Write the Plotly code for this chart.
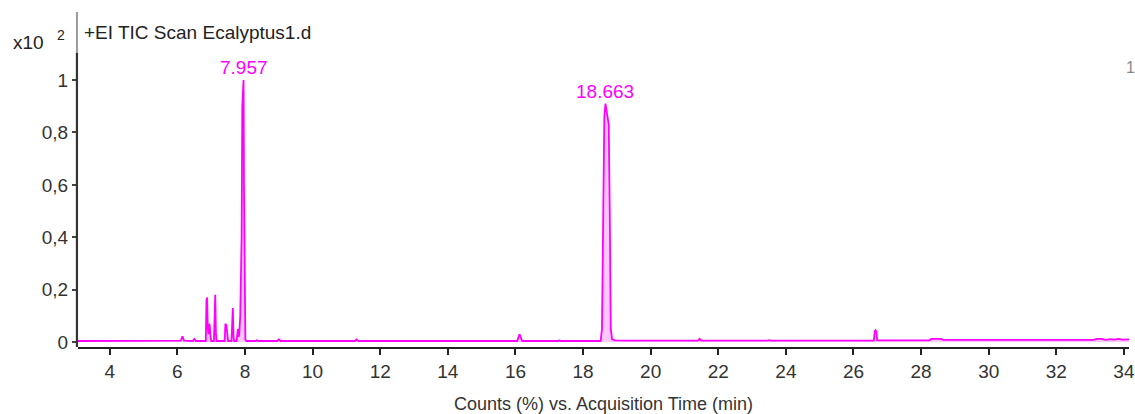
import plotly.graph_objects as go

# Acquisition time (min) and counts (x10^2 %)
time_min = [
    3.06, 5.9, 6.1, 6.15, 6.2, 6.45, 6.5, 6.55, 6.84, 6.86, 6.88, 6.9, 6.92, 6.94, 6.96, 6.98, 7.0,
    7.08, 7.1, 7.12, 7.14, 7.16, 7.4, 7.42, 7.45, 7.48, 7.5, 7.6, 7.62, 7.64, 7.66, 7.68,
    7.75, 7.77, 7.79, 7.81, 7.83, 7.86, 7.88, 7.9, 7.92, 7.94, 7.957, 7.97, 7.99, 8.01, 8.04,
    8.3, 8.35, 8.4, 8.95, 9.0, 9.05, 10.05, 10.1, 10.15, 11.25, 11.3, 11.35,
    16.05, 16.1, 16.12, 16.15, 16.2, 17.25, 17.3, 17.35,
    18.52, 18.56, 18.58, 18.6, 18.63, 18.663, 18.7, 18.73, 18.76, 18.79, 18.82, 18.86, 18.95, 19.3,
    19.55, 19.6, 19.65, 20.05, 20.1, 20.15, 21.4, 21.45, 21.5, 23.45, 23.5, 23.55,
    26.6, 26.63, 26.65, 26.68, 26.7, 28.25, 28.3, 28.45, 28.6, 28.65,
    33.1, 33.2, 33.35, 33.45, 33.6, 33.7, 33.85, 33.95, 34.15,
]
counts = [
    0.004, 0.004, 0.005, 0.022, 0.005, 0.004, 0.012, 0.004, 0.004, 0.16, 0.17, 0.05, 0.03, 0.07, 0.06, 0.02, 0.004,
    0.004, 0.17, 0.18, 0.03, 0.004, 0.004, 0.07, 0.065, 0.03, 0.004, 0.004, 0.12, 0.13, 0.02, 0.004,
    0.004, 0.04, 0.05, 0.02, 0.03, 0.1, 0.25, 0.4, 0.9, 0.98, 1.0, 0.6, 0.05, 0.01, 0.004,
    0.004, 0.007, 0.004, 0.004, 0.01, 0.004, 0.004, 0.006, 0.004, 0.004, 0.01, 0.004,
    0.004, 0.02, 0.03, 0.02, 0.004, 0.004, 0.006, 0.004,
    0.004, 0.05, 0.5, 0.52, 0.86, 0.91, 0.88, 0.85, 0.83, 0.5, 0.05, 0.01, 0.006, 0.005,
    0.005, 0.007, 0.005, 0.005, 0.007, 0.005, 0.005, 0.012, 0.005, 0.005, 0.007, 0.005,
    0.005, 0.04, 0.045, 0.04, 0.006, 0.006, 0.012, 0.012, 0.012, 0.008,
    0.008, 0.012, 0.012, 0.008, 0.011, 0.009, 0.012, 0.009, 0.01,
]

peak_labels = ["7.957", "18.663"]
peak_times = [7.957, 18.663]
peak_heights = [1.0, 0.91]

y_tick_vals = [0, 0.2, 0.4, 0.6, 0.8, 1]
y_tick_text = ["0", "0,2", "0,4", "0,6", "0,8", "1"]
x_tick_vals = [4, 6, 8, 10, 12, 14, 16, 18, 20, 22, 24, 26, 28, 30, 32, 34]

MAG = "#ff00ff"
font_family = "Liberation Sans, Arial, sans-serif"

fig = go.Figure()
fig.add_trace(go.Scatter(
    x=time_min, y=counts, mode="lines",
    line=dict(color=MAG, width=1.8),
    fill="tozeroy", fillcolor="rgba(255,0,255,0.22)",
    hoverinfo="x+y", showlegend=False,
))

for lab, t, h in zip(peak_labels, peak_times, peak_heights):
    fig.add_annotation(x=t, y=h, text=lab, showarrow=False, yanchor="bottom",
                       yshift=0, font=dict(color=MAG, size=19, family=font_family))

fig.add_annotation(xref="paper", yref="paper", x=0.004, y=1.0, xanchor="left", yanchor="middle",
                   text="+EI TIC Scan Ecalyptus1.d", showarrow=False, yshift=-20,
                   font=dict(color="#222", size=19, family=font_family))
fig.add_annotation(xref="paper", yref="paper", x=-0.0307, y=1.0, xanchor="right", yanchor="middle",
                   text="x10", showarrow=False, yshift=-30,
                   font=dict(color="#222", size=19, family=font_family))
fig.add_annotation(xref="paper", yref="paper", x=-0.0108, y=1.0, xanchor="right", yanchor="middle",
                   text="2", showarrow=False, yshift=-23,
                   font=dict(color="#222", size=14, family=font_family))
fig.add_annotation(xref="paper", yref="paper", x=0.9955, y=0.835, xanchor="left", yanchor="middle",
                   text="1", showarrow=False,
                   font=dict(color="#888", size=16, family=font_family))

# y-axis line: darker lower segment, lighter upper segment
fig.add_shape(type="line", xref="paper", yref="y", x0=-0.001, x1=-0.001, y0=-0.019, y1=1.105,
              line=dict(color="#333", width=2.2))
fig.add_shape(type="line", xref="paper", yref="y", x0=-0.001, x1=-0.001, y0=1.105, y1=1.26,
              line=dict(color="#999", width=2))

fig.update_layout(
    width=1135, height=414,
    margin=dict(l=78, r=0, t=12, b=67),
    paper_bgcolor="white", plot_bgcolor="white",
    font=dict(family=font_family, color="#333", size=19),
    xaxis=dict(
        range=[3.06, 34.15], tickvals=x_tick_vals, showgrid=False, zeroline=False,
        showline=True, linecolor="#222", linewidth=2.2, ticks="outside", ticklen=6,
        tickcolor="#222", tickwidth=1.5, tickfont=dict(size=19, color="#333"),
        ticklabeloverflow="allow",
        title=dict(text="Counts (%) vs. Acquisition Time (min)", font=dict(size=18, color="#333"),
                   standoff=18),
    ),
    yaxis=dict(
        range=[-0.019, 1.26], tickvals=y_tick_vals, ticktext=y_tick_text, showgrid=False,
        zeroline=False, showline=False, ticks="outside",
        ticklen=5, tickcolor="#444", tickwidth=1.5, tickfont=dict(size=19, color="#333"),
    ),
)

fig.write_html("out.html", config={"displayModeBar": False},
               post_script="document.body.style.margin='0';document.body.style.overflow='hidden';")
